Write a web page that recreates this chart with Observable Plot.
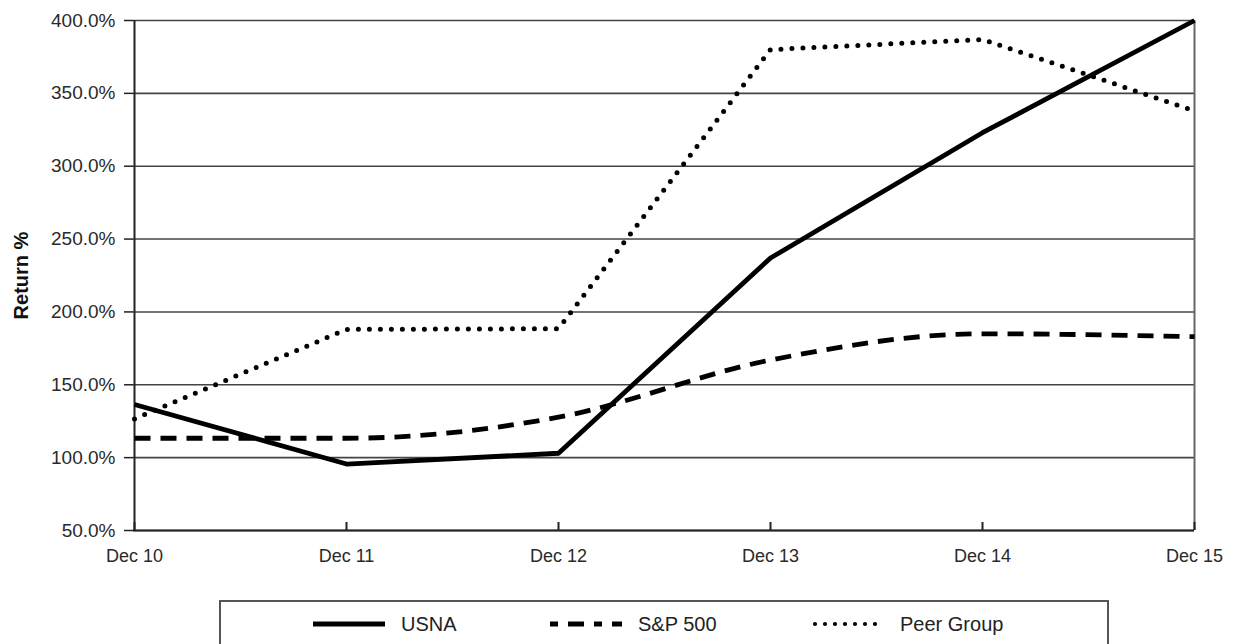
<!DOCTYPE html>
<html><head><meta charset="utf-8">
<script src="https://cdn.jsdelivr.net/npm/d3@7"></script>
<script src="https://cdn.jsdelivr.net/npm/@observablehq/plot@0.6"></script>
<style>
body{margin:0;background:#fff;font-family:"Liberation Sans",Arial,sans-serif;overflow:hidden}
#wrap{position:relative;width:1234px;height:644px;overflow:hidden}
#legend{position:absolute;left:219px;top:600px;width:890px;height:70px;border:2px solid #555;box-sizing:border-box;background:#fff}
.item{position:absolute;top:0;height:44px;display:flex;align-items:center;font-size:20px;color:#222}
.item svg{margin-right:16px}
</style></head><body>
<div id="wrap"><div id="chart"></div><div id="legend"></div></div>
<script>
const years = ["Dec 10","Dec 11","Dec 12","Dec 13","Dec 14","Dec 15"];
const usna  = [136.5, 95.6, 103.0, 237.0, 323.0, 400.0];
const sp500 = [113.3, 113.3, 127.8, 167.0, 185.0, 183.0];
const peer  = [126.6, 188.0, 188.5, 380.0, 387.0, 338.0];
const yTicks = [50, 100, 150, 200, 250, 300, 350, 400];
const seriesNames = ["USNA", "S&P 500", "Peer Group"];

const rows = vals => years.map((y, i) => ({year: y, value: vals[i]}));
const styles = [
  {strokeWidth: 4.8, strokeDasharray: null, strokeLinecap: "butt", curve: "linear"},
  {strokeWidth: 4.8, strokeDasharray: "16,10", strokeLinecap: "butt", curve: "monotone-x"},
  {strokeWidth: 5, strokeDasharray: "0,11", strokeLinecap: "round", curve: "linear"}
];
const seriesVals = [usna, sp500, peer];
const font = '"Liberation Sans", Arial, sans-serif';

const chart = Plot.plot({
  width: 1234, height: 600,
  marginLeft: 133, marginRight: 40, marginTop: 20, marginBottom: 70,
  style: {fontFamily: font, fontSize: "18px", color: "#222", background: "white"},
  x: {type: "point", domain: years, padding: 0, label: null},
  y: {domain: [50, 400], ticks: yTicks, label: null},
  marks: [
    Plot.ruleY(yTicks, {stroke: "#444", strokeWidth: 1.6}),
    Plot.ruleX([years[years.length - 1]], {stroke: "#666", strokeWidth: 2}),
    Plot.ruleX([years[0]], {stroke: "#222", strokeWidth: 2}),
    Plot.ruleY([50], {stroke: "#222", strokeWidth: 2}),
    Plot.axisY({ticks: yTicks, tickSize: 9, tickPadding: 9, tickFormat: d => d.toFixed(1) + "%", label: null, stroke: "#222", strokeWidth: 1.5, fontSize: 19, fill: "#2a2a2a"}),
    Plot.axisX({tickSize: 0, tickPadding: 19, label: null, fontSize: 18, fill: "#2a2a2a"}),
    Plot.axisX({tickSize: -8, tickFormat: () => "", label: null, stroke: "#222", strokeWidth: 2}),
    ...[2, 1, 0].map(i => Plot.line(rows(seriesVals[i]), {
      x: "year", y: "value", stroke: "#000",
      strokeWidth: styles[i].strokeWidth,
      strokeDasharray: styles[i].strokeDasharray,
      strokeLinecap: styles[i].strokeLinecap,
      strokeLinejoin: "round",
      curve: styles[i].curve
    })),
    Plot.text(["Return %"], {frameAnchor: "left", textAnchor: "middle", rotate: -90, dx: -112, fontWeight: "bold", fontSize: 20, fill: "#111"})
  ]
});
document.getElementById("chart").appendChild(chart);

// legend
const legend = document.getElementById("legend");
const lefts = [92, 329, 591]; // swatch x offsets inside legend box
seriesNames.forEach((name, i) => {
  const item = document.createElement("div");
  item.className = "item";
  item.style.left = lefts[i] + "px";
  const s = styles[i];
  const dash = s.strokeDasharray ? `stroke-dasharray="${s.strokeDasharray}"` : "";
  const dashLegend = i === 2 ? `stroke-dasharray="0,10"` : (i === 1 ? `stroke-dasharray="8,10,16,10"` : dash);
  item.innerHTML = `<svg width="72" height="10"><line x1="${s.strokeLinecap === 'round' ? 3 : 0}" y1="5" x2="72" y2="5" stroke="#000" stroke-width="${i === 2 ? 4.2 : s.strokeWidth}" ${dashLegend} stroke-linecap="${s.strokeLinecap}"/></svg><span></span>`;
  item.querySelector("span").textContent = name;
  legend.appendChild(item);
});
</script>
</body></html>
